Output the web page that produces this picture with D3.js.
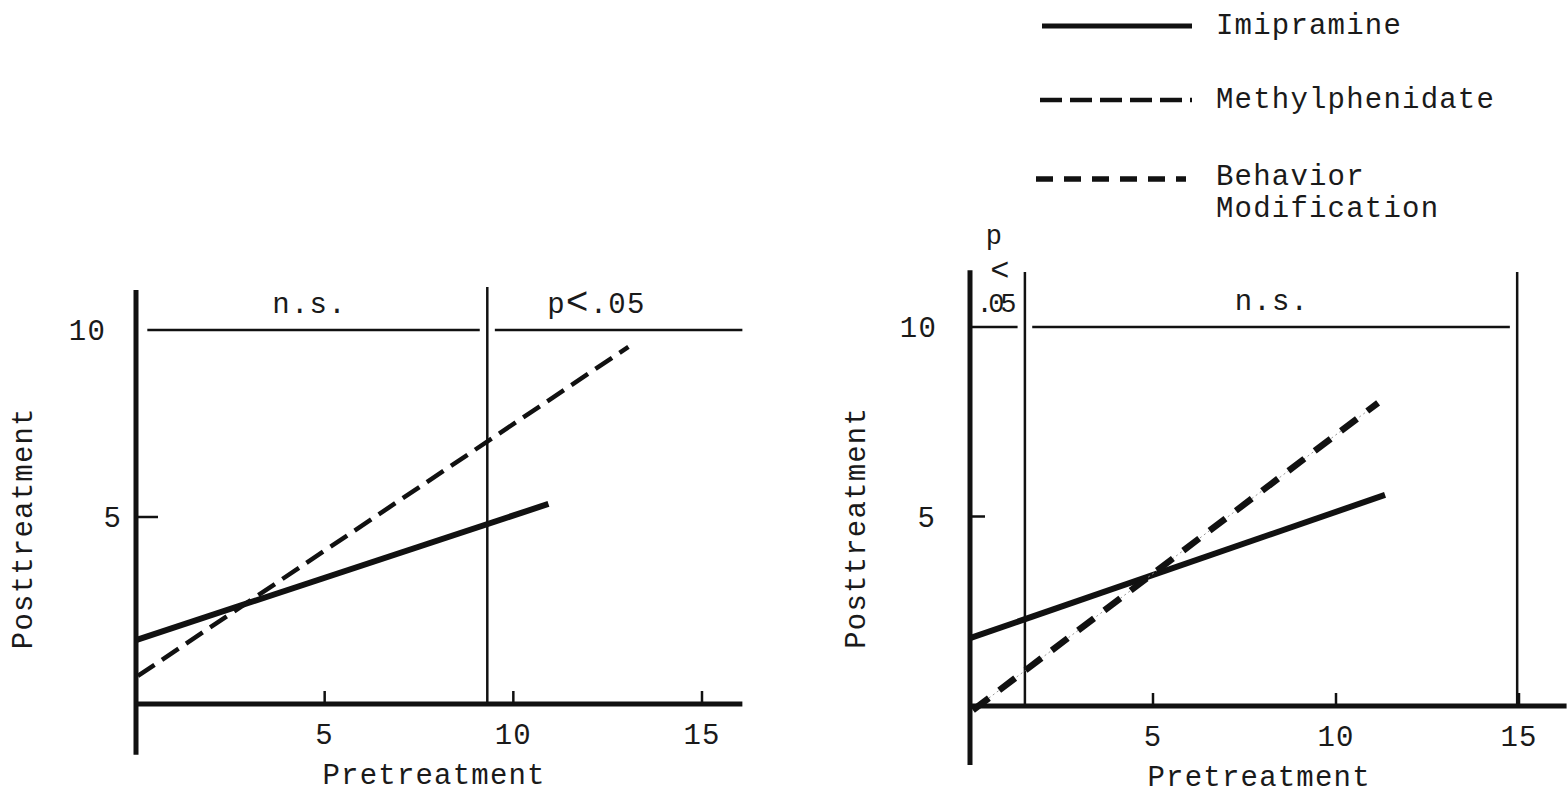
<!DOCTYPE html>
<html>
<head>
<meta charset="utf-8">
<script src="https://cdn.jsdelivr.net/npm/d3@7/dist/d3.min.js"></script>
<style>
  body { margin: 0; background: #fff; }
  text { font-family: "Liberation Mono", "DejaVu Sans Mono", monospace; fill: #1a1a1a; letter-spacing: 1.2px; }
</style>
</head>
<body>
<svg id="chart" width="1568" height="796"></svg>
<script>
/**
 * Data (pretreatment vs posttreatment regression lines).
 */
var xTicks = [5, 10, 15];
var yTicks = [5, 10];

var leftImipramine = [[0, 1.71], [10.93, 5.35]];
var leftMethylphenidate = [[0.05, 0.75], [13.05, 9.55]];
var rightImipramine = [[0, 1.79], [11.34, 5.57]];
var rightBehavior = [[0.08, -0.11], [11.15, 8.0]];

// region boundaries and their labels
var leftBounds = [9.31];
var rightBounds = [1.5, 14.95];
var leftRegionLabels = [["n.s.", 4.6], ["p<.05", 12.2]];
var rightRegionLabels = [["n.s.", 8.25]];

var legendNames = ["Imipramine", "Methylphenidate", "Behavior Modification"];

var svg = d3.select("#chart");
var ink = "#111";
var fs = "29px";

/**
 * Draw one panel.
 */
var drawPanel = function(p) {
    var x = d3.scaleLinear().domain([0, 15]).range(p.xRange);
    var y = d3.scaleLinear().domain([0, 10]).range(p.yRange);
    var g = svg.append("g");

    // axes
    g.append("line")
        .attr("x1", x(0)).attr("x2", x(0))
        .attr("y1", y(p.yTop)).attr("y2", y(p.yBottom))
        .attr("stroke", ink).attr("stroke-width", 5);
    g.append("line")
        .attr("x1", x(0)).attr("x2", x(p.xMax))
        .attr("y1", y(0)).attr("y2", y(0))
        .attr("stroke", ink).attr("stroke-width", 5);

    // x ticks point up into the plot
    g.selectAll(".xt").data(xTicks).enter().append("line")
        .attr("x1", function(d) { return x(d); })
        .attr("x2", function(d) { return x(d); })
        .attr("y1", y(0)).attr("y2", y(0) - 13)
        .attr("stroke", ink).attr("stroke-width", 2.5);
    g.selectAll(".xl").data(xTicks).enter().append("text")
        .attr("x", function(d) { return x(d); })
        .attr("y", y(0) + 40)
        .attr("text-anchor", "middle")
        .style("font-size", fs)
        .text(function(d) { return d; });

    // y tick at 5 only, the 10 level is the region line
    g.append("line")
        .attr("x1", x(0)).attr("x2", x(0) + p.yTickLen)
        .attr("y1", y(5)).attr("y2", y(5))
        .attr("stroke", ink).attr("stroke-width", 2.5);
    g.selectAll(".yl").data(yTicks).enter().append("text")
        .attr("x", function(d, i) { return x(0) + p.yLabelDx[i]; })
        .attr("y", function(d) { return y(d) + 10; })
        .attr("text-anchor", "end")
        .style("font-size", fs)
        .text(function(d) { return d; });

    // region boundaries
    g.selectAll(".bd").data(p.bounds).enter().append("line")
        .attr("x1", function(d) { return x(d); })
        .attr("x2", function(d) { return x(d); })
        .attr("y1", y(p.boundTop)).attr("y2", y(0))
        .attr("stroke", ink).attr("stroke-width", 2.5);

    // horizontal line at 10, broken at each boundary
    var closed = p.segEnd === p.bounds[p.bounds.length - 1];
    var edges = [p.segStart].concat(p.bounds);
    if (!closed) edges.push(p.segEnd);
    for (var i = 0; i < edges.length - 1; i++) {
        var a = i === 0 ? edges[i] : edges[i] + 0.2;
        var b = edges[i + 1] - ((i + 1 < edges.length - 1 || closed) ? 0.2 : 0);
        g.append("line")
            .attr("x1", x(a)).attr("x2", x(b))
            .attr("y1", y(10)).attr("y2", y(10))
            .attr("stroke", ink).attr("stroke-width", 2.5);
    }

    g.selectAll(".rl").data(p.regionLabels).enter().append("text")
        .attr("x", function(d) { return x(d[1]); })
        .attr("y", y(10) - 17)
        .attr("text-anchor", "middle")
        .style("font-size", fs)
        .each(function(d) {
            var t = d3.select(this);
            if (d[0].indexOf("<") > -1) {
                t.append("tspan").text("p");
                t.append("tspan").style("font-size", "38px").attr("dy", 1).text("<");
                t.append("tspan").attr("dy", -1).text(".05");
            } else {
                t.text(d[0]);
            }
        });

    // axis titles
    g.append("text")
        .attr("x", x(7.9)).attr("y", y(0) + 80)
        .attr("text-anchor", "middle")
        .style("font-size", fs)
        .text("Pretreatment");
    g.append("text")
        .attr("transform", "translate(" + (x(0) + p.titleDx) + "," + y(4.7) + ") rotate(-90)")
        .attr("text-anchor", "middle")
        .style("font-size", fs)
        .text("Posttreatment");

    var line = d3.line()
        .x(function(d) { return x(d[0]); })
        .y(function(d) { return y(d[1]); });

    p.series.forEach(function(s) {
        if (s.kind === "behavior") {
            g.append("path").datum(s.data).attr("d", line)
                .attr("fill", "none").attr("stroke", "#999")
                .attr("stroke-width", 1).attr("stroke-dasharray", "2,3");
        }
        g.append("path").datum(s.data).attr("d", line)
            .attr("fill", "none").attr("stroke", ink)
            .attr("stroke-width", s.kind === "imipramine" ? 6 : (s.kind === "behavior" ? 6.5 : 4.5))
            .attr("stroke-dasharray", s.kind === "imipramine" ? null : (s.kind === "behavior" ? "20,13" : "20,9"));
    });

    return { x: x, y: y };
};

drawPanel({
    xRange: [136, 702], yRange: [704, 330],
    yTop: 11.07, yBottom: -1.36, xMax: 16.07,
    yTickLen: 22, yLabelDx: [-14, -30], titleDx: -104,
    bounds: leftBounds, boundTop: 11.15, segStart: 0.3, segEnd: 16.07,
    regionLabels: leftRegionLabels,
    series: [
        { kind: "imipramine", data: leftImipramine },
        { kind: "methylphenidate", data: leftMethylphenidate }
    ]
});

var right = drawPanel({
    xRange: [970, 1519], yRange: [706, 327],
    yTop: 11.5, yBottom: -1.56, xMax: 16.3,
    yTickLen: 15, yLabelDx: [-34, -33], titleDx: -105,
    bounds: rightBounds, boundTop: 11.45, segStart: 0.05, segEnd: 14.95,
    regionLabels: rightRegionLabels,
    series: [
        { kind: "imipramine", data: rightImipramine },
        { kind: "behavior", data: rightBehavior }
    ]
});

// stacked "p < .05" in the narrow left region of the right panel
var pc = right.x(rightBounds[0] / 2);
svg.append("text").attr("x", pc - 3).attr("y", 244).attr("text-anchor", "middle")
    .style("font-size", "27px").text("p");
svg.append("text").attr("x", pc + 3).attr("y", 280).attr("text-anchor", "middle")
    .style("font-size", "32px").text("<");
svg.append("text").attr("x", pc - 1).attr("y", 312).attr("text-anchor", "middle")
    .style("font-size", "27px").style("letter-spacing", "0px")
    .attr("textLength", 40).text(".05");

// legend
var legend = svg.append("g");
var legendRows = [
    { y: 26, x1: 1042, x2: 1192, w: 5, dash: null, lines: [legendNames[0]], ty: [34] },
    { y: 100, x1: 1040, x2: 1192, w: 4.5, dash: "22,8", lines: [legendNames[1]], ty: [108] },
    { y: 179, x1: 1036, x2: 1186, w: 5.5, dash: "17,11", lines: ["Behavior", "Modification"], ty: [185, 217] }
];
legendRows.forEach(function(r) {
    legend.append("line")
        .attr("x1", r.x1).attr("x2", r.x2).attr("y1", r.y).attr("y2", r.y)
        .attr("stroke", ink).attr("stroke-width", r.w)
        .attr("stroke-dasharray", r.dash);
    r.lines.forEach(function(t, i) {
        legend.append("text")
            .attr("x", 1216).attr("y", r.ty[i])
            .style("font-size", fs)
            .text(t);
    });
});
</script>
</body>
</html>
